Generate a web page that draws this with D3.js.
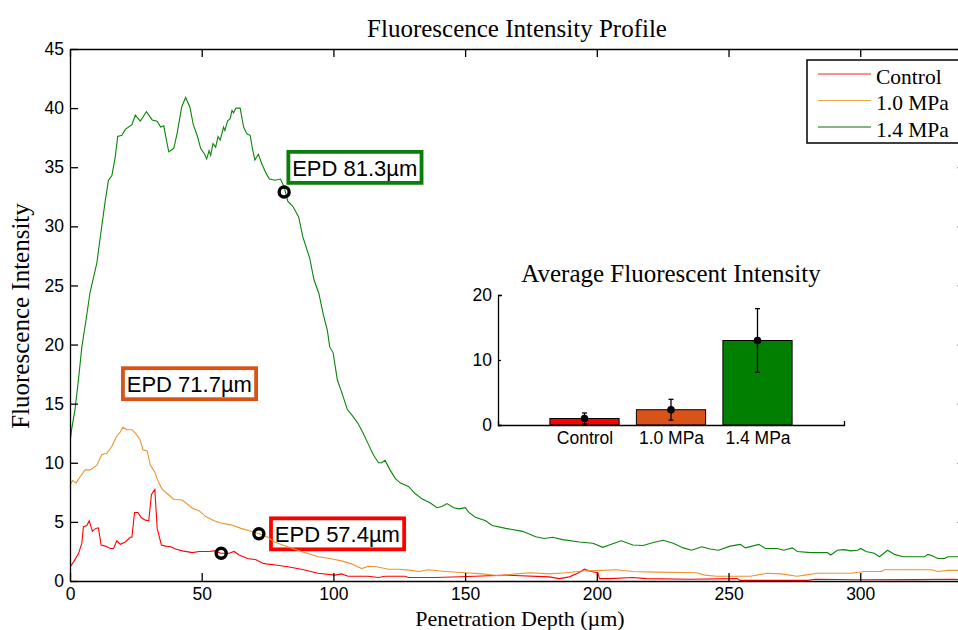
<!doctype html>
<html lang="en">
<head>
<meta charset="UTF-8">
<title>Fluorescence Intensity Profile</title>
<script src="https://cdnjs.cloudflare.com/ajax/libs/d3/7.8.5/d3.min.js"></script>
<style>
    body { margin: 0; background: #fff; }
    .serif { font-family: "Liberation Serif", "Times New Roman", serif; }
    .sans { font-family: "Liberation Sans", Arial, Helvetica, sans-serif; }
    .axis path, .axis line { stroke: #000; stroke-width: 1.3; }
    .axis text { font-family: "Liberation Sans", Arial, sans-serif; font-size: 17.5px; fill: #000; }
</style>
</head>
<body>
<svg id="chart" width="958" height="630"></svg>
<script>

    // ---- data ----
    var seriesNames = ['Control', '1.0 MPa', '1.4 MPa'];

    var ctrlDepth = [0, 1.3, 3.2, 4.5, 5.1, 6.4, 7.3, 8.5, 9.8, 10.8, 11.8, 13.4, 15.3, 16.5, 17.8, 19.1, 21, 22.9, 23.5, 24.5, 25.8, 27.1, 28.6, 29.9, 30.9, 32.2, 33.1, 34.7, 36.3, 38.2, 40.1, 42.6, 46.5, 49, 52.8, 54.7, 57.3, 60.4, 62.3, 64.2, 67.4, 70.6, 73.2, 74.4, 78, 82.7, 87.8, 94.2, 100.5, 103.1, 105.6, 113.2, 117.1, 119.6, 127.2, 128.5, 138.7, 153.9, 165.4, 181.9, 185.8, 189.6, 192.7, 195.3, 197.8, 200.4, 201, 204.8, 213.7, 218.8, 235.4, 253.2, 254.5, 280, 283, 300, 320, 335.9, 341];
    var ctrlVal = [1.2, 1.6, 2.3, 3.2, 4.6, 4.7, 5.1, 4.2, 4.45, 4.5, 3.05, 2.95, 2.75, 2.75, 3.4, 3.1, 3.3, 3.7, 3.7, 5.8, 5.8, 5.35, 5.15, 5.1, 7.3, 7.75, 4.45, 3.05, 2.95, 2.9, 2.7, 2.55, 2.4, 2.5, 2.5, 2.55, 2.35, 2.35, 2.5, 2.2, 1.9, 1.8, 1.5, 1.45, 1.35, 1.2, 1.0, 0.65, 0.5, 0.6, 0.4, 0.4, 0.3, 0.4, 0.4, 0.3, 0.3, 0.4, 0.5, 0.35, 0.2, 0.35, 0.65, 1.0, 0.8, 0.7, 0.2, 0.2, 0.3, 0.2, 0.15, 0.2, 0.05, 0.05, 0.15, 0.1, 0.12, 0.15, 0.05];

    var mpa10Depth = [0, 1, 2.3, 3.8, 5.7, 7.6, 10.2, 12.1, 14, 15.9, 17.6, 19.1, 20.1, 21.6, 23.5, 24.8, 26.5, 27.7, 29.3, 30.5, 32.1, 33.7, 35, 36.9, 39.4, 42.6, 46.5, 49, 51.5, 54.7, 57.3, 61.1, 64.9, 68.7, 71.9, 75.1, 77.6, 82.7, 87.8, 94.2, 98.6, 103.1, 106.9, 110.7, 113.2, 116.4, 120.9, 124.7, 129.8, 132.3, 136.1, 142.5, 150.1, 156.5, 162.9, 169.2, 175, 181.9, 188.3, 194.7, 202.3, 207.4, 213.7, 222.6, 237.9, 241, 245.5, 258.3, 264.6, 270, 276, 279, 283.7, 296.4, 301.5, 308, 309.2, 327, 329.5, 333.3, 341];
    var mpa10Val = [8.1, 8.5, 8.3, 8.8, 9.4, 9.4, 9.8, 10.7, 10.8, 11.4, 12.2, 12.6, 13.0, 12.8, 12.8, 12.5, 12.0, 11.1, 11.0, 9.8, 9.25, 8.3, 7.75, 7.4, 6.9, 6.85, 6.15, 5.95, 5.45, 5.1, 4.9, 4.75, 4.45, 4.2, 4.0, 3.7, 3.3, 2.9, 2.5, 2.05, 1.9, 1.7, 1.45, 1.05, 1.25, 1.2, 1.0, 1.0, 0.9, 0.8, 0.95, 0.8, 0.7, 0.6, 0.45, 0.6, 0.7, 0.6, 0.7, 0.85, 0.9, 0.95, 0.8, 0.75, 0.7, 0.5, 0.4, 0.4, 0.65, 0.6, 0.4, 0.5, 0.65, 0.65, 0.8, 0.8, 0.95, 0.95, 0.8, 0.9, 0.9];

    var mpa14Depth = [0, 0.6, 1.9, 3.2, 4.5, 6.1, 7.6, 10.2, 11.5, 13.4, 14.6, 15.9, 17.2, 18.1, 19.7, 21, 23.5, 24.8, 26.7, 29, 31.2, 33.1, 34.4, 35.6, 36.6, 37.5, 39.4, 40.7, 42.4, 43.9, 45.5, 46.8, 48.4, 49.6, 51.1, 51.9, 52.8, 53.4, 54.3, 55.3, 56.2, 57, 58.3, 58.8, 59.8, 60.8, 61.5, 62.1, 63, 64.6, 65.9, 67.2, 68.4, 69.3, 70.2, 71.5, 72.8, 74.4, 75.7, 77.9, 79.9, 81.2, 82.7, 84.6, 86.8, 88.4, 91, 92.6, 94.5, 96.1, 97.7, 98.6, 99.9, 101.5, 103.1, 105.3, 107.5, 109.4, 111.3, 113.2, 115.1, 117.1, 118.3, 119.6, 121.5, 123.4, 125.3, 128.5, 131, 133.6, 136.8, 139.3, 141.2, 143.1, 145.7, 147.6, 150.1, 151.4, 153.9, 157.8, 160.3, 165.4, 171.8, 176.8, 180, 183.2, 187, 193.4, 198.5, 202.3, 205.5, 209.3, 213.7, 217.6, 221.4, 225.2, 229, 232.8, 236, 239.8, 243, 246.2, 250.6, 254.5, 256.4, 261.5, 264, 268.5, 271, 274.2, 276.1, 281.2, 287.5, 288.8, 291.3, 293.9, 296.4, 299, 300.2, 302.2, 305.3, 307.3, 310.4, 313, 316.2, 324.4, 325.7, 327, 329.5, 332.1, 333.3, 341];
    var mpa14Val = [11.7, 12.8, 14.5, 17.0, 19.8, 22.1, 24.4, 26.9, 29.1, 32.2, 33.9, 34.3, 35.9, 37.6, 37.7, 38.2, 38.6, 39.4, 38.9, 39.7, 39.0, 38.9, 38.4, 38.5, 37.3, 36.3, 36.6, 37.9, 40.1, 40.9, 40.1, 38.6, 37.6, 36.6, 36.1, 35.7, 36.4, 36.0, 37.0, 36.7, 37.6, 37.3, 38.4, 38.1, 38.9, 39.1, 39.8, 39.6, 40.0, 40.0, 38.4, 37.8, 37.7, 36.5, 35.6, 36.1, 35.3, 34.5, 34.0, 33.9, 34.0, 33.4, 32.1, 31.7, 30.8, 29.1, 27.3, 25.5, 24.3, 22.6, 21.2, 19.8, 19.3, 17.0, 16.0, 14.5, 13.9, 13.3, 12.5, 11.6, 10.7, 10.0, 10.0, 10.2, 9.4, 8.7, 8.3, 8.0, 7.4, 6.95, 6.6, 6.2, 6.3, 6.55, 6.2, 6.1, 6.2, 5.8, 5.4, 5.1, 4.7, 4.45, 4.2, 3.75, 3.6, 3.7, 3.5, 3.3, 3.2, 2.85, 3.1, 3.4, 3.05, 3.0, 3.25, 3.45, 3.2, 2.8, 2.6, 2.9, 2.7, 2.6, 2.95, 3.1, 2.8, 3.1, 2.75, 2.75, 2.6, 2.8, 2.5, 2.4, 2.4, 2.2, 2.6, 2.65, 2.55, 2.6, 2.75, 2.5, 2.35, 2.05, 2.6, 2.25, 2.05, 2.05, 2.25, 2.15, 1.9, 1.9, 2.05, 2.05];

    var xTicks = [0, 50, 100, 150, 200, 250, 300];
    var yTicks = [0, 5, 10, 15, 20, 25, 30, 35, 40, 45];

    // effective penetration depth markers (same order as seriesNames)
    var epdDepth = [57.4, 71.7, 81.3];
    var epdVal = [2.35, 4.0, 32.9];
    var epdLabels = ['EPD 57.4\u00b5m', 'EPD 71.7\u00b5m', 'EPD 81.3\u00b5m'];

    // inset bar chart
    var barCats = ['Control', '1.0 MPa', '1.4 MPa'];
    var barMeans = [1.0, 2.35, 13.0];
    var barErr = [0.85, 1.6, 4.9];
    var insetTicks = [0, 10, 20];

    // ---- layout / style ----
    var lineColors = ['#ff0000', '#ec942e', '#0a840a'];
    var legendColors = ['#ff2020', '#f0a850', '#0a6e0a'];
    var boxColors = ['#ff0000', '#d95319', '#0a7d0a'];
    var barColors = ['#ff0000', '#d95319', '#007f00'];
    var labelAt = [[76.3, 5.3], [20.1, 18.0], [82.9, 36.3]];   // top-left of each EPD box, in data units

    var svg = d3.select('#chart');

    var x = d3.scaleLinear().domain([0, 340]).range([70, 965.6]);
    var y = d3.scaleLinear().domain([0, 45]).range([581, 49]);

    svg.append('clipPath').attr('id', 'plotclip')
        .append('rect').attr('x', 70).attr('y', 49).attr('width', 896).attr('height', 532);

    // EPD label boxes (no fill: the curves show through them)
    epdLabels.forEach(function (lab, i) {
        var bx = x(labelAt[i][0]), by = y(labelAt[i][1]);
        var g = svg.append('g');
        var r = g.append('rect');
        var t = g.append('text').attr('class', 'sans')
            .attr('x', bx + 3.8).attr('y', by + 24)
            .attr('font-size', 22)
            .text(lab);
        var w = t.node().getComputedTextLength();
        r.attr('x', bx).attr('y', by)
            .attr('width', w + 8).attr('height', 31)
            .attr('fill', 'none')
            .attr('stroke', boxColors[i])
            .attr('stroke-width', 3.8);
    });

    // curves
    var series = [
        {depth: ctrlDepth, val: ctrlVal},
        {depth: mpa10Depth, val: mpa10Val},
        {depth: mpa14Depth, val: mpa14Val}
    ];

    var line = d3.line()
        .x(function (d) { return x(d[0]); })
        .y(function (d) { return y(d[1]); });

    svg.append('g').attr('clip-path', 'url(#plotclip)')
        .selectAll('path')
        .data(series)
        .enter().append('path')
        .attr('d', function (s) { return line(d3.zip(s.depth, s.val)); })
        .attr('fill', 'none')
        .attr('stroke', function (s, i) { return lineColors[i]; })
        .attr('stroke-width', 1.1);

    // axes, ticks pointing inward on all four sides
    svg.append('g').attr('class', 'axis')
        .attr('transform', 'translate(0,581)')
        .call(d3.axisBottom(x).tickValues(xTicks).tickSizeInner(-8).tickSizeOuter(0).tickPadding(7));
    svg.append('g').attr('class', 'axis')
        .attr('transform', 'translate(0,49)')
        .call(d3.axisTop(x).tickValues(xTicks).tickSizeInner(-8).tickSizeOuter(0).tickFormat(''));
    svg.append('g').attr('class', 'axis')
        .attr('transform', 'translate(70,0)')
        .call(d3.axisLeft(y).tickValues(yTicks).tickSizeInner(-8).tickSizeOuter(0).tickPadding(6));
    svg.append('g').attr('class', 'axis')
        .attr('transform', 'translate(965.6,0)')
        .call(d3.axisRight(y).tickValues(yTicks).tickSizeInner(-8).tickSizeOuter(0).tickFormat(''));

    // titles
    svg.append('text').attr('class', 'serif')
        .attr('x', 517).attr('y', 36.5)
        .attr('text-anchor', 'middle').attr('font-size', 25)
        .text('Fluorescence Intensity Profile');

    svg.append('text').attr('class', 'serif')
        .attr('x', 520).attr('y', 626)
        .attr('text-anchor', 'middle').attr('font-size', 22)
        .text('Penetration Depth (\u00b5m)');

    svg.append('text').attr('class', 'serif')
        .attr('transform', 'translate(28.5,316) rotate(-90)')
        .attr('text-anchor', 'middle').attr('font-size', 25)
        .text('Fluorescence Intensity');

    // EPD markers
    svg.selectAll('circle.epd')
        .data(epdDepth)
        .enter().append('circle')
        .attr('class', 'epd')
        .attr('cx', function (d) { return x(d); })
        .attr('cy', function (d, i) { return y(epdVal[i]); })
        .attr('r', 5)
        .attr('fill', 'none')
        .attr('stroke', '#000')
        .attr('stroke-width', 3.4);

    // legend
    var lg = svg.append('g').attr('transform', 'translate(807,60)');
    lg.append('rect').attr('width', 175).attr('height', 83)
        .attr('fill', '#fff').attr('stroke', '#000').attr('stroke-width', 1.5);
    seriesNames.forEach(function (name, i) {
        var ry = 14 + i * 26.5;
        lg.append('line').attr('x1', 11).attr('x2', 64).attr('y1', ry).attr('y2', ry)
            .attr('stroke', legendColors[i]).attr('stroke-width', 1.2);
        lg.append('text').attr('class', 'serif')
            .attr('x', 69).attr('y', ry + 9.5)
            .attr('font-size', 21.5)
            .text(name);
    });

    // ---- inset: average fluorescent intensity ----
    var ix = d3.scaleLinear().domain([0, 4]).range([498, 844]);
    var iy = d3.scaleLinear().domain([0, 20]).range([425, 295]);
    var bw = 0.8 * (ix(1) - ix(0));

    var inset = svg.append('g');

    inset.append('text').attr('class', 'serif')
        .attr('x', ix(2)).attr('y', 281.5)
        .attr('text-anchor', 'middle').attr('font-size', 25)
        .text('Average Fluorescent Intensity');

    inset.selectAll('rect.bar')
        .data(barMeans)
        .enter().append('rect')
        .attr('class', 'bar')
        .attr('x', function (d, i) { return ix(i + 1) - bw / 2; })
        .attr('y', function (d) { return iy(d); })
        .attr('width', bw)
        .attr('height', function (d) { return iy(0) - iy(d); })
        .attr('fill', function (d, i) { return barColors[i]; })
        .attr('stroke', '#000')
        .attr('stroke-width', 1);

    inset.append('g').attr('class', 'axis')
        .attr('transform', 'translate(0,425)')
        .call(d3.axisBottom(ix).tickValues([1, 2, 3]).tickSizeInner(0).tickSizeOuter(-4).tickPadding(7)
            .tickFormat(function (d) { return barCats[d - 1]; }));
    inset.append('g').attr('class', 'axis')
        .attr('transform', 'translate(498,0)')
        .call(d3.axisLeft(iy).tickValues(insetTicks).tickSizeInner(-3).tickSizeOuter(-4).tickPadding(6));

    // error bars
    var eb = inset.selectAll('g.err')
        .data(barMeans)
        .enter().append('g').attr('class', 'err');
    eb.append('line')
        .attr('x1', function (d, i) { return ix(i + 1); })
        .attr('x2', function (d, i) { return ix(i + 1); })
        .attr('y1', function (d, i) { return iy(d - barErr[i]); })
        .attr('y2', function (d, i) { return iy(d + barErr[i]); })
        .attr('stroke', '#000').attr('stroke-width', 1.3);
    [-1, 1].forEach(function (sgn) {
        eb.append('line')
            .attr('x1', function (d, i) { return ix(i + 1) - 2.5; })
            .attr('x2', function (d, i) { return ix(i + 1) + 2.5; })
            .attr('y1', function (d, i) { return iy(d + sgn * barErr[i]); })
            .attr('y2', function (d, i) { return iy(d + sgn * barErr[i]); })
            .attr('stroke', '#000').attr('stroke-width', 1.3);
    });
    eb.append('circle')
        .attr('cx', function (d, i) { return ix(i + 1); })
        .attr('cy', function (d) { return iy(d); })
        .attr('r', 3.8)
        .attr('fill', '#000');

</script>
</body>
</html>
